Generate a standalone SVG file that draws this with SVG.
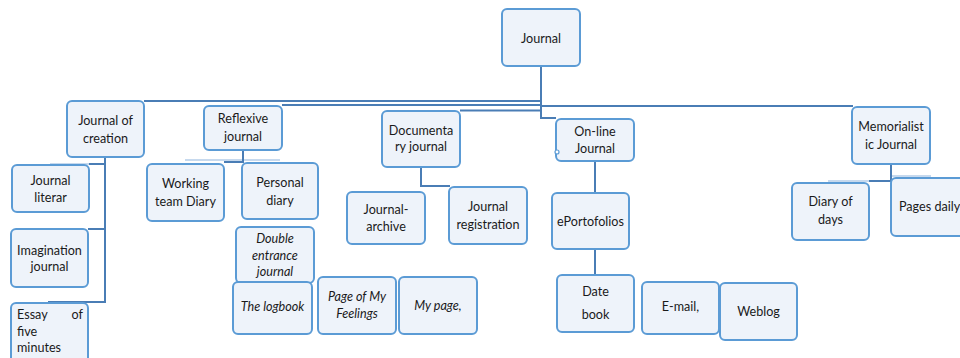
<svg xmlns="http://www.w3.org/2000/svg" width="960" height="358" viewBox="0 0 960 358">
<style>
.box{fill:#eef3fa;stroke:#5b9bd5;stroke-width:2}
.t{font-family:Lato,"Open Sans",sans-serif;font-size:12.6px;fill:#1a1a1a;text-anchor:middle}
.s{text-anchor:start}
.e{text-anchor:end}
.i{font-style:italic}
.c{fill:none;stroke:#4a7db5;stroke-width:2}
.l{fill:none;stroke:#c6d9ee;stroke-width:2}
</style>
<rect width="960" height="358" fill="#fff"/>
<g id="connectors">
<path class="l" d="M50 164H90M185 160H280M828 181H869M891 176H931"/>
<path class="c" d="M541 66V118H556M144 101H541M282 105H541M460 110.5H541M541 106H853"/>
<path class="c" d="M105 157V302H48M105 164H89M105 229H88"/>
<path class="c" d="M243 150V162H224"/>
<path class="c" d="M421 167V186H450"/>
<path class="c" d="M595 161V193M595 249V275"/>
<path class="c" d="M891 164V181H869"/>
</g>
<g id="journal"><rect class="box" x="502" y="9" width="78" height="57" rx="5"/><text class="t" x="541" y="42.5">Journal</text></g>
<g id="creation"><rect class="box" x="67" y="101" width="77" height="56" rx="5"/><text class="t" x="105.5" y="124.5">Journal of</text><text class="t" x="105.5" y="142.5">creation</text></g>
<g id="reflexive"><rect class="box" x="204" y="106" width="78" height="44" rx="5"/><text class="t" x="243" y="122.5">Reflexive</text><text class="t" x="243" y="140.5">journal</text></g>
<g id="documentary"><rect class="box" x="382" y="111" width="78" height="56" rx="5"/><text class="t" x="421" y="134.5">Documenta</text><text class="t" x="421" y="151">ry journal</text></g>
<g id="online"><rect class="box" x="556" y="119" width="78" height="42" rx="5"/><text class="t" x="595" y="136">On-line</text><text class="t" x="595" y="153">Journal</text><circle cx="557" cy="152" r="2" fill="#fff" stroke="#5b9bd5" stroke-width="1.2"/></g>
<g id="memorialistic"><rect class="box" x="852" y="107" width="78" height="57" rx="5"/><text class="t" x="891" y="131">Memorialist</text><text class="t" x="891" y="148.5">ic Journal</text></g>
<g id="literar"><rect class="box" x="12" y="165" width="77" height="47" rx="5"/><text class="t" x="50.5" y="185">Journal</text><text class="t" x="50.5" y="202">literar</text></g>
<g id="imagination"><rect class="box" x="11" y="229" width="77" height="58" rx="5"/><text class="t" x="49.5" y="254.5">Imagination</text><text class="t" x="49.5" y="271">journal</text></g>
<g id="essay"><rect class="box" x="11" y="303" width="77" height="60" rx="5"/><text class="t s" x="17" y="318.5">Essay</text><text class="t e" x="83" y="318.5">of</text><text class="t s" x="17" y="336">five</text><text class="t s" x="17" y="352">minutes</text></g>
<g id="working"><rect class="box" x="147" y="164" width="77" height="57" rx="5"/><text class="t" x="185.5" y="187.5">Working</text><text class="t" x="185.5" y="205.5">team Diary</text></g>
<g id="personal"><rect class="box" x="242" y="163" width="76" height="56" rx="5"/><text class="t" x="280" y="186.8">Personal</text><text class="t" x="280" y="204.5">diary</text></g>
<g id="double"><rect class="box" x="236" y="227" width="78" height="56" rx="5"/><text class="t i" x="275" y="242.5">Double</text><text class="t i" x="275" y="260">entrance</text><text class="t i" x="275" y="276">journal</text></g>
<g id="logbook"><rect class="box" x="233" y="282" width="79" height="52" rx="5"/><text class="t i" x="272.5" y="310.5">The logbook</text></g>
<g id="feelings"><rect class="box" x="318" y="277" width="78" height="57" rx="5"/><text class="t i" x="357" y="300.5">Page of My</text><text class="t i" x="357" y="318">Feelings</text></g>
<g id="mypage"><rect class="box" x="399" y="277" width="78" height="57" rx="5"/><text class="t i" x="438" y="309.5">My page,</text></g>
<g id="archive"><rect class="box" x="347" y="192" width="78" height="52" rx="5"/><text class="t" x="386" y="213.8">Journal-</text><text class="t" x="386" y="230.5">archive</text></g>
<g id="registration"><rect class="box" x="449" y="187" width="78" height="57" rx="5"/><text class="t" x="488" y="211">Journal</text><text class="t" x="488" y="228.5">registration</text></g>
<g id="eportofolios"><rect class="box" x="552" y="193" width="77" height="56" rx="5"/><text class="t" x="590.5" y="226">ePortofolios</text></g>
<g id="datebook"><rect class="box" x="557" y="275" width="77" height="57" rx="5"/><text class="t" x="595.5" y="296">Date</text><text class="t" x="595.5" y="318.5">book</text></g>
<g id="email"><rect class="box" x="642" y="282" width="77" height="52" rx="5"/><text class="t" x="680.5" y="311">E-mail,</text></g>
<g id="weblog"><rect class="box" x="720" y="283" width="77" height="57" rx="5"/><text class="t" x="758.5" y="316">Weblog</text></g>
<g id="diarydays"><rect class="box" x="792" y="183" width="77" height="57" rx="5"/><text class="t" x="830.5" y="206">Diary of</text><text class="t" x="830.5" y="223.8">days</text></g>
<g id="pagesdaily"><rect class="box" x="891" y="178" width="77" height="58" rx="5"/><text class="t s" x="899" y="211">Pages daily</text></g>
</svg>
